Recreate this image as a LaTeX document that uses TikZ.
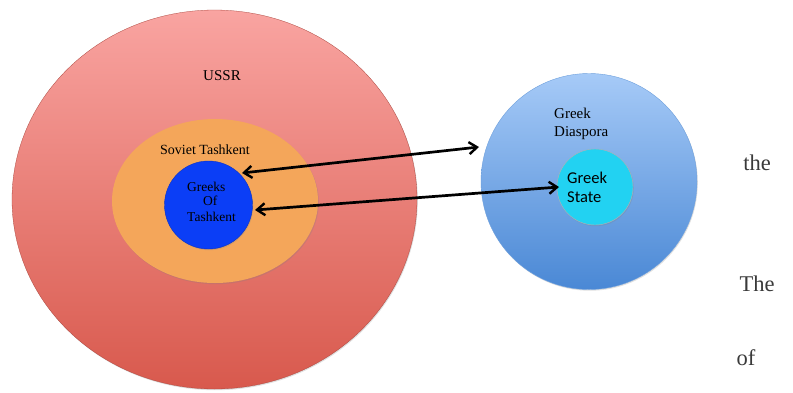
\documentclass[tikz,border=0pt]{standalone}
\usepackage{fontspec}
\setmainfont{Liberation Serif}
\newfontfamily\sansfnt{Carlito}
\usetikzlibrary{shapes.geometric,arrows.meta,shadows}
\definecolor{redtop}{HTML}{F9A4A1}
\definecolor{redbot}{HTML}{D8594D}
\definecolor{orangefill}{HTML}{F4A65A}
\definecolor{bluefill}{HTML}{0B3EF6}
\definecolor{skytop}{HTML}{A6CAF7}
\definecolor{skybot}{HTML}{4A88D5}
\definecolor{cyanfill}{HTML}{22D2F2}
\definecolor{pagetext}{HTML}{3A3A3A}
\tikzset{
  blob/.style={ellipse, inner sep=0pt, drop shadow={shadow xshift=0.8pt, shadow yshift=-1.2pt, opacity=0.25}},
  lbl/.style={inner sep=0pt, text=black},
  twoway/.style={line width=2.7pt, {Straight Barb[length=8pt,width=12pt,line width=2.4pt]}-{Straight Barb[length=8pt,width=12pt,line width=2.4pt]}},
  pagewords/.style={inner sep=0pt, text=pagetext, font=\fontsize{22.5}{26}\selectfont}
}
\begin{document}
\begin{tikzpicture}[x=1pt,y=-1pt]
\useasboundingbox (0,0) rectangle (793,392);
\fill[white] (0,0) rectangle (793,392);
% shapes
\node[blob, minimum width=405pt, minimum height=379pt, top color=redtop, bottom color=redbot, draw=redbot!80!black, line width=0.3pt] (ussr) at (214.5,199.5) {};
\node[blob, minimum width=206pt, minimum height=164pt, fill=orangefill] (tashkent) at (215,201) {};
\node[blob, minimum width=88pt, minimum height=88pt, fill=bluefill, draw=bluefill!80!black, line width=0.4pt] (greeks) at (208.5,205) {};
\node[blob, minimum width=216pt, minimum height=216pt, top color=skytop, bottom color=skybot, draw=skybot!80!white, line width=0.4pt] (diaspora) at (589,181.5) {};
\node[blob, minimum width=76pt, minimum height=76pt, fill=cyanfill, draw=gray!60, line width=0.4pt] (state) at (595,187) {};
% labels
\node[lbl, font=\fontsize{15}{18}\selectfont] (tussr) at (222,76) {USSR};
\node[lbl, font=\fontsize{14}{17}\selectfont] (tsov) at (205,150) {Soviet Tashkent};
\node[lbl, anchor=west, font=\fontsize{13.5}{15}\selectfont] (tg1) at (187,187) {Greeks};
\node[lbl, anchor=west, font=\fontsize{13.5}{15}\selectfont] (tg2) at (203,201) {Of};
\node[lbl, anchor=west, font=\fontsize{13.5}{15}\selectfont] (tg3) at (187,217) {Tashkent};
\node[lbl, anchor=west, font=\fontsize{15}{18}\selectfont] (td1) at (554,113) {Greek};
\node[lbl, anchor=west, font=\fontsize{15}{18}\selectfont] (td2) at (554,133) {Diaspora};
\node[lbl, anchor=west, font=\sansfnt\fontsize{16.5}{19}\selectfont] (ts1) at (567,178) {Greek};
\node[lbl, anchor=west, font=\sansfnt\fontsize{16.5}{19}\selectfont] (ts2) at (567,197) {State};
\node[pagewords] (w1) at (757,163) {the};
\node[pagewords] (w2) at (757,284) {The};
\node[pagewords] (w3) at (746,358) {of};
% connectors
\coordinate (a1) at (242,173);
\coordinate (a2) at (479,147);
\coordinate (b1) at (255,210);
\coordinate (b2) at (559,187);
\draw[twoway] (a1) -- (a2);
\draw[twoway] (b1) -- (b2);
\end{tikzpicture}
\end{document}
